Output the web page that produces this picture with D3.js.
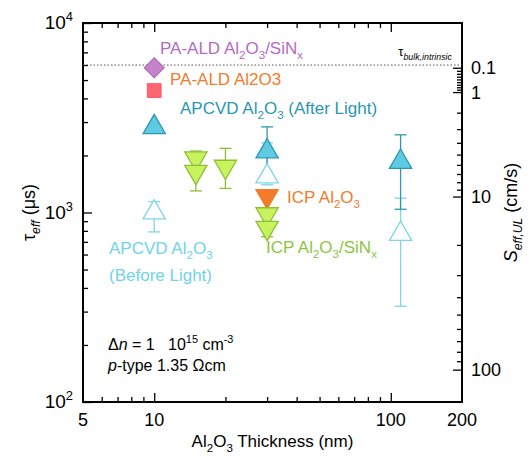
<!DOCTYPE html>
<html lang="en">
<head>
<meta charset="UTF-8">
<title>tau eff vs Al2O3 thickness</title>
<script src="https://cdn.jsdelivr.net/npm/d3@7"></script>
<style>
body{margin:0;background:#fff;}
text{font-family:"Liberation Sans",Arial,sans-serif;fill:#000;white-space:pre;}
</style>
</head>
<body>
<script>
// data (thickness in nm, lifetime in us)
var paSinxX=[10], paSinxTau=[5800];
var paAldX=[10], paAldTau=[4400];
var apAfterX=[10,30,110], apAfterTau=[2820,2100,1850];
var apAfterLo=[null,1560,1040], apAfterHi=[null,2830,2570];
var apBeforeX=[10,30,110], apBeforeTau=[1000,1550,770];
var apBeforeLo=[790,1400,320], apBeforeHi=[1140,2330,1190];
var icpX=[30], icpTau=[1220];
var icpSinxX=[15,15,20,30,30], icpSinxTau=[1930,1640,1745,980,830];
var icpSinxLo=[null,1300,1340,null,745], icpSinxHi=[2110,null,2180,null,null];

var tauBulk=6000;          // us
var halfW=0.0151;          // cm, S = W/2*(1/tau - 1/tauBulk)
var xTickLabels=[5,10,100,200];
var yTickExp=[2,3,4];
var sMajor=[0.1,1,10,100];

var width=531, height=461;
var L=83, T=23, R=462, B=402;

var svg=d3.select("body").append("svg").attr("width",width).attr("height",height);

var x=d3.scaleLog().domain([5,200]).range([L,R]);
var y=d3.scaleLog().domain([100,10000]).range([B,T]);
// S_eff,UL (cm/s) -> y position via tau
function sToY(s){ return y(1e6/(s/halfW+1e6/tauBulk)); }

// helper for sub/superscripts
function rich(t,parts,size){
    var shift=0;
    parts.forEach(function(p){
        var target=0, fs=size;
        if(p.sub){target=size*0.3;fs=size*0.68;}
        if(p.sup){target=-size*0.42;fs=size*0.68;}
        var ts=t.append("tspan").text(p.t).attr("font-size",fs).attr("dy",target-shift);
        if(p.it) ts.attr("font-style","italic");
        shift=target;
    });
}

// axes (inward ticks)
var xMinor=[6,7,8,9,20,30,40,50,60,70,80,90];
var xMajor=[10,100];
svg.append("g").attr("transform","translate(0,"+B+")")
    .call(d3.axisBottom(x).tickValues(xMinor).tickSize(-5).tickFormat(""));
svg.append("g").attr("transform","translate(0,"+B+")")
    .call(d3.axisBottom(x).tickValues(xMajor).tickSize(-9).tickFormat(""));
svg.append("g").attr("transform","translate(0,"+T+")")
    .call(d3.axisTop(x).tickValues(xMinor).tickSize(-5).tickFormat(""));
svg.append("g").attr("transform","translate(0,"+T+")")
    .call(d3.axisTop(x).tickValues(xMajor).tickSize(-9).tickFormat(""));

var yMinor=[], yMajor=[100,1000,10000];
[100,1000].forEach(function(d){ for(var k=2;k<10;k++) yMinor.push(d*k); });
svg.append("g").attr("transform","translate("+L+",0)")
    .call(d3.axisLeft(y).tickValues(yMinor).tickSize(-5).tickFormat(""));
svg.append("g").attr("transform","translate("+L+",0)")
    .call(d3.axisLeft(y).tickValues(yMajor).tickSize(-9).tickFormat(""));

svg.selectAll(".domain").remove();
svg.selectAll(".tick line").attr("stroke","#000").attr("stroke-width",1.3);

// right axis: S_eff,UL
var sMinor=[];
[0.1,1,10].forEach(function(d){ for(var k=2;k<10;k++) sMinor.push(d*k); });
var rg=svg.append("g");
rg.selectAll("line.mi").data(sMinor).enter().append("line")
    .attr("x1",R-5).attr("x2",R).attr("y1",sToY).attr("y2",sToY)
    .attr("stroke","#000").attr("stroke-width",1.3);
rg.selectAll("line.ma").data(sMajor).enter().append("line")
    .attr("x1",R-9).attr("x2",R).attr("y1",sToY).attr("y2",sToY)
    .attr("stroke","#000").attr("stroke-width",1.3);
rg.selectAll("text").data(sMajor).enter().append("text")
    .attr("x",R+9).attr("y",function(d){return sToY(d)+6;})
    .attr("font-size",18).text(function(d){return d;});

// frame
svg.append("rect").attr("x",L).attr("y",T).attr("width",R-L).attr("height",B-T)
    .attr("fill","none").attr("stroke","#000").attr("stroke-width",2);

// tick labels
svg.selectAll("text.xl").data(xTickLabels).enter().append("text")
    .attr("x",function(d){return x(d);}).attr("y",B+24)
    .attr("text-anchor","middle").attr("font-size",18).text(function(d){return d;});
yTickExp.forEach(function(e){
    var t=svg.append("text").attr("x",L-10).attr("y",y(Math.pow(10,e))+6)
        .attr("text-anchor","end").attr("font-size",19);
    rich(t,[{t:"10"},{t:String(e),sup:true}],19);
});

// axis titles
var xt=svg.append("text").attr("x",(L+R)/2).attr("y",447).attr("text-anchor","middle").attr("font-size",17);
rich(xt,[{t:"Al"},{t:"2",sub:true},{t:"O"},{t:"3",sub:true},{t:" Thickness (nm)"}],17);
var yt=svg.append("text").attr("transform","translate(35,"+((T+B)/2)+") rotate(-90)")
    .attr("text-anchor","middle").attr("font-size",18);
rich(yt,[{t:"τ"},{t:"eff",sub:true,it:true},{t:" (μs)"}],18);
var rt=svg.append("text").attr("transform","translate(517,"+((T+B)/2)+") rotate(-90)")
    .attr("text-anchor","middle").attr("font-size",18);
rich(rt,[{t:"S",it:true},{t:"eff,UL",sub:true,it:true},{t:" (cm/s)"}],18);

// tau bulk line
svg.append("line").attr("x1",L).attr("x2",R).attr("y1",y(tauBulk)).attr("y2",y(tauBulk))
    .attr("stroke","#555").attr("stroke-width",1).attr("stroke-dasharray","1.5,2");
var tb=svg.append("text").attr("x",452).attr("y",y(tauBulk)-9).attr("text-anchor","end").attr("font-size",13);
rich(tb,[{t:"τ"},{t:"bulk,intrinsic",sub:true,it:true}],13);

// error bars
function errBars(xs,ts,lo,hi,col){
    var g=svg.append("g").attr("stroke",col).attr("stroke-width",1.3);
    xs.forEach(function(xv,i){
        var top=hi[i]!=null?hi[i]:ts[i], bot=lo[i]!=null?lo[i]:ts[i];
        g.append("line").attr("x1",x(xv)).attr("x2",x(xv)).attr("y1",y(top)).attr("y2",y(bot));
        if(hi[i]!=null) g.append("line").attr("x1",x(xv)-6).attr("x2",x(xv)+6).attr("y1",y(hi[i])).attr("y2",y(hi[i]));
        if(lo[i]!=null) g.append("line").attr("x1",x(xv)-6).attr("x2",x(xv)+6).attr("y1",y(lo[i])).attr("y2",y(lo[i]));
    });
}
errBars(apBeforeX,apBeforeTau,apBeforeLo,apBeforeHi,"#7fd6ea");
errBars(apAfterX,apAfterTau,apAfterLo,apAfterHi,"#2f98b0");
errBars(icpSinxX,icpSinxTau,icpSinxLo,icpSinxHi,"#8dbf35");

// markers
function tri(xs,ts,down,fill,stroke){
    svg.append("g").selectAll("path").data(xs).enter().append("path")
        .attr("d",d3.symbol().type(d3.symbolTriangle).size(215))
        .attr("transform",function(d,i){return "translate("+x(d)+","+y(ts[i])+")"+(down?" rotate(180)":"");})
        .attr("fill",fill).attr("stroke",stroke).attr("stroke-width",1.3);
}
svg.append("g").selectAll("path").data(paSinxX).enter().append("path")
    .attr("d",d3.symbol().type(d3.symbolSquare).size(200))
    .attr("transform",function(d,i){return "translate("+x(d)+","+y(paSinxTau[i])+") rotate(45)";})
    .attr("fill","#c584c9").attr("stroke","#a866b5").attr("stroke-width",1);
svg.append("g").selectAll("path").data(paAldX).enter().append("path")
    .attr("d",d3.symbol().type(d3.symbolSquare).size(190))
    .attr("transform",function(d,i){return "translate("+x(d)+","+y(paAldTau[i])+")";})
    .attr("fill","#ff6670").attr("stroke","#ff5a66").attr("stroke-width",1);
tri(apAfterX,apAfterTau,false,"#5fcbe3","#2f98b0");
tri(apBeforeX,apBeforeTau,false,"#fff","#7fd6ea");
tri(icpX,icpTau,true,"#f47b2a","#f47b2a");
tri(icpSinxX,icpSinxTau,true,"#c9f25f","#8dbf35");

// series labels
function label(px,py,col,parts){
    var t=svg.append("text").attr("x",px).attr("y",py).attr("font-size",17).style("fill",col);
    rich(t,parts,17);
}
label(160,54,"#b46cc2",[{t:"PA-ALD Al"},{t:"2",sub:true},{t:"O"},{t:"3",sub:true},{t:"/SiN"},{t:"x",sub:true}]);
label(170,85,"#f47b2a",[{t:"PA-ALD Al2O3"}]);
label(180,114,"#2a97b2",[{t:"APCVD Al"},{t:"2",sub:true},{t:"O"},{t:"3",sub:true},{t:" (After Light)"}]);
label(287,203,"#f47b2a",[{t:"ICP Al"},{t:"2",sub:true},{t:"O"},{t:"3",sub:true}]);
label(266,253,"#8cc63e",[{t:"ICP Al"},{t:"2",sub:true},{t:"O"},{t:"3",sub:true},{t:"/SiN"},{t:"x",sub:true}]);
label(109,254,"#6fd3ea",[{t:"APCVD Al"},{t:"2",sub:true},{t:"O"},{t:"3",sub:true}]);
label(109,281,"#6fd3ea",[{t:"(Before Light)"}]);

// conditions
var c1=svg.append("text").attr("x",108).attr("y",350).attr("font-size",16);
rich(c1,[{t:"Δ"},{t:"n",it:true},{t:" = 1\u00a0\u00a0 10"},{t:"15",sup:true},{t:" cm"},{t:"-3",sup:true}],16);
var c2=svg.append("text").attr("x",108).attr("y",371).attr("font-size",16);
rich(c2,[{t:"p",it:true},{t:"-type 1.35 Ωcm"}],16);
</script>
</body>
</html>
